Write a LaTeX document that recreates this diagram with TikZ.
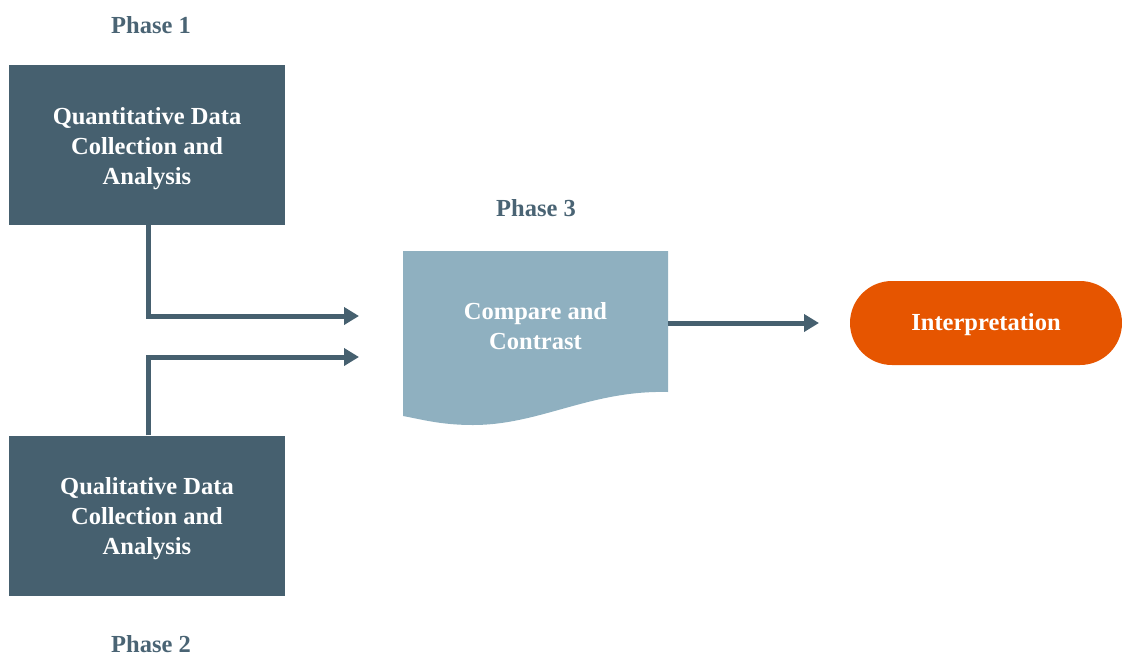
\documentclass[tikz,border=0pt]{standalone}
\usepackage{fontspec}
\setmainfont{Liberation Serif}
\usetikzlibrary{arrows.meta,shapes.misc}
\definecolor{slate}{HTML}{46606F}
\definecolor{phasetxt}{HTML}{4A6474}
\definecolor{docblue}{HTML}{8FB0C0}
\definecolor{burnt}{HTML}{E65500}
\tikzset{
  phase/.style={text=phasetxt, inner sep=0pt, font=\fontsize{24.5}{28}\selectfont\bfseries},
  databox/.style={fill=slate, text=white, minimum width=276pt, minimum height=160pt,
    align=center, inner sep=0pt, font=\fontsize{24.5}{30}\selectfont\bfseries},
  boxtext/.style={text=white, align=center, inner sep=0pt, font=\fontsize{24.5}{30}\selectfont\bfseries},
  terminal/.style={rounded rectangle, fill=burnt, text=white, minimum width=272pt,
    minimum height=84pt, inner sep=0pt, font=\fontsize{24.5}{30}\selectfont\bfseries},
  flow/.style={draw=slate, line width=5pt, -{Triangle[length=15pt,width=17pt]}},
}
\begin{document}
\begin{tikzpicture}[x=1pt,y=-1pt]
  \useasboundingbox (0,0) rectangle (1122,656);

  % phase captions
  \node[phase] (p1) at (151,25) {Phase 1};
  \node[phase] (p2) at (151,644) {Phase 2};
  \node[phase] (p3) at (536,208) {Phase 3};

  % data collection boxes
  \node[databox] (quant) at (147,145) {};
  \node[boxtext] (quanttxt) at (147,149) {Quantitative Data\\Collection and\\Analysis};
  \node[databox] (qual) at (147,515.5) {};
  \node[boxtext] (qualtxt) at (147,519) {Qualitative Data\\Collection and\\Analysis};

  % document shape with wavy lower edge
  \fill[docblue] (403,251) -- (668,251) -- (668,392)
    .. controls (590,390) and (540,425) .. (473,425)
    .. controls (440,425) and (420,419) .. (403,416) -- cycle;
  \node[minimum width=265pt, minimum height=144pt, inner sep=0pt] (doc) at (535.5,323) {};
  \node[boxtext] (doctxt) at (535.5,326) {Compare and\\Contrast};

  % final outcome
  \node[terminal] (interp) at (986,323) {};
  \node[boxtext] (interptxt) at (986,325) {Interpretation};

  % arrow end points in front of the document
  \coordinate (in1) at (359,316);
  \coordinate (in2) at (359,357);
  \coordinate (out1) at (819,323);

  % connectors
  \draw[flow] (quant.south -| 148,0) |- (in1);
  \draw[flow] (qual.north -| 148,0) |- (in2);
  \draw[flow] (doc.east) -- (out1);
\end{tikzpicture}
\end{document}
